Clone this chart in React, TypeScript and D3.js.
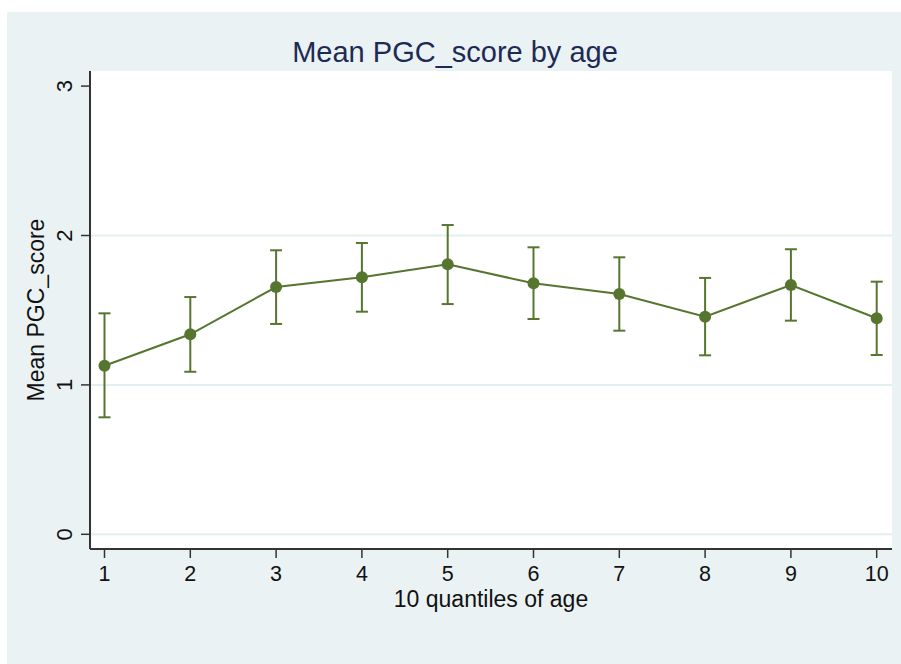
import React from "react";
import * as d3 from "d3";

const quantiles = [1, 2, 3, 4, 5, 6, 7, 8, 9, 10];
const meanScore = [1.128, 1.339, 1.655, 1.72, 1.807, 1.68, 1.608, 1.456, 1.669, 1.446];
const upperCI = [1.479, 1.588, 1.901, 1.95, 2.07, 1.921, 1.854, 1.716, 1.908, 1.691];
const lowerCI = [0.783, 1.088, 1.408, 1.49, 1.541, 1.441, 1.363, 1.198, 1.43, 1.2];
const yTicks = [0, 1, 2, 3];
const gridTicks = [0, 1, 2];

const App = () => {
  const width = 901;
  const height = 664;
  const plot = { left: 90, right: 892, top: 71, bottom: 549 };
  const green = "#56752f";
  const bg = "#eaf2f3";
  const font = "'Liberation Sans', Arial, sans-serif";

  const x = d3.scaleLinear().domain([1, 10]).range([104.5, 876.7]);
  const y = d3.scaleLinear().domain([0, 3]).range([534.3, 86.1]);

  const datos = quantiles.map((q, i) => ({
    q,
    mean: meanScore[i],
    hi: upperCI[i],
    lo: lowerCI[i],
  }));

  const line = d3
    .line<{ q: number; mean: number }>()
    .x((d) => x(d.q))
    .y((d) => y(d.mean));

  return (
    <svg
      width={width}
      height={height}
      style={{ position: "absolute", left: 0, top: 0 }}
    >
      <rect x={0} y={0} width={width} height={height} fill="#ffffff" />
      <rect x={7} y={12} width={width - 7} height={height - 12} fill={bg} />
      <rect
        x={plot.left}
        y={plot.top}
        width={plot.right - plot.left}
        height={plot.bottom - plot.top}
        fill="#ffffff"
      />
      {gridTicks.map((t) => (
        <line
          key={"g" + t}
          x1={plot.left}
          x2={plot.right}
          y1={y(t)}
          y2={y(t)}
          stroke="#e3eef0"
          strokeWidth={2}
        />
      ))}

      {/* title */}
      <text
        x={455}
        y={62}
        textAnchor="middle"
        fontFamily={font}
        fontSize={29}
        fill="#1e2a56"
      >
        Mean PGC_score by age
      </text>

      {/* y axis */}
      <line x1={plot.left} x2={plot.left} y1={plot.top} y2={plot.bottom} stroke="#333" strokeWidth={2} />
      {yTicks.map((t) => (
        <g key={"y" + t}>
          <line x1={plot.left - 9} x2={plot.left} y1={y(t)} y2={y(t)} stroke="#333" strokeWidth={1.5} />
          <text
            transform={`translate(72,${y(t)}) rotate(-90)`}
            textAnchor="middle"
            fontFamily={font}
            fontSize={22}
            fill="#111"
          >
            {t}
          </text>
        </g>
      ))}
      <text
        transform={`translate(44,${(plot.top + plot.bottom) / 2}) rotate(-90)`}
        textAnchor="middle"
        fontFamily={font}
        fontSize={23}
        fill="#111"
      >
        Mean PGC_score
      </text>

      {/* x axis */}
      <line x1={plot.left} x2={plot.right} y1={plot.bottom} y2={plot.bottom} stroke="#333" strokeWidth={2} />
      {quantiles.map((q) => (
        <g key={"x" + q}>
          <line x1={x(q)} x2={x(q)} y1={plot.bottom} y2={plot.bottom + 9} stroke="#333" strokeWidth={1.5} />
          <text
            x={x(q)}
            y={581}
            textAnchor="middle"
            fontFamily={font}
            fontSize={21.5}
            fill="#111"
          >
            {q}
          </text>
        </g>
      ))}
      <text
        x={(plot.left + plot.right) / 2}
        y={607}
        textAnchor="middle"
        fontFamily={font}
        fontSize={23}
        fill="#111"
      >
        10 quantiles of age
      </text>

      {/* error bars */}
      {datos.map((d) => (
        <g key={"e" + d.q} stroke={green} strokeWidth={2}>
          <line x1={x(d.q)} x2={x(d.q)} y1={y(d.lo)} y2={y(d.hi)} />
          <line x1={x(d.q) - 6} x2={x(d.q) + 6} y1={y(d.hi)} y2={y(d.hi)} />
          <line x1={x(d.q) - 6} x2={x(d.q) + 6} y1={y(d.lo)} y2={y(d.lo)} />
        </g>
      ))}

      <path d={line(datos) ?? ""} fill="none" stroke={green} strokeWidth={2} />
      {datos.map((d) => (
        <circle key={"p" + d.q} cx={x(d.q)} cy={y(d.mean)} r={6} fill={green} />
      ))}
    </svg>
  );
};

export default App;
